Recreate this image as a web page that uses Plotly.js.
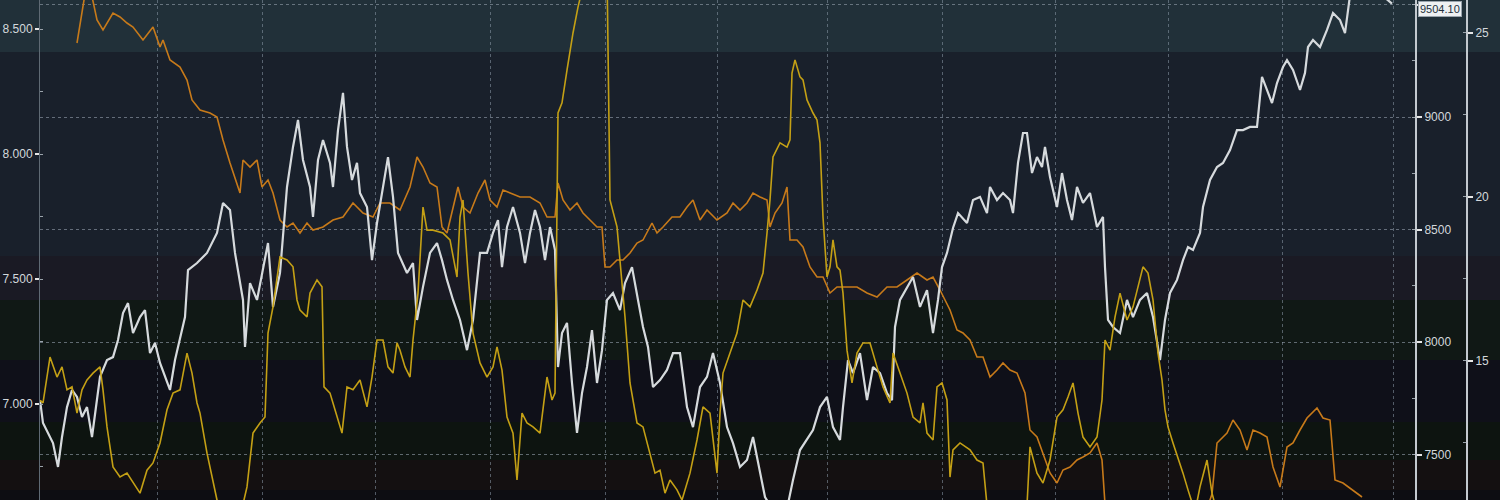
<!DOCTYPE html>
<html>
<head>
<meta charset="utf-8">
<script src="https://cdn.plot.ly/plotly-3.0.1.min.js"></script>
<style>html,body{margin:0;padding:0;background:#141922;}#chart{width:1500px;height:500px;}</style>
</head>
<body>
<div id="chart"></div>
<script>
// x positions are trading-day numbers
const monthGridDays = [23.4, 44.4, 67, 90, 113, 135.4, 157.4, 180.4, 203, 225.6, 248.4, 270.6];

// White series (right axis 1)
const whiteDays = [0,0.6,2.6,3.6,4.4,5.4,6.4,7.4,8.4,9.4,
10.4,11.4,12,13.4,14.6,15.6,16.6,17.6,18.6,20,
21,22,23,24,25,26,27,28,29,29.6,
31.4,33.4,35.4,36.6,38,39,40.6,41,42,43.4,
44.6,45.6,46.6,48,49.4,50.6,51.6,52.6,54,54.6,
55.6,56.6,58,58.6,59.6,60.6,61.4,62.4,63.4,64,
65.4,66.4,67.4,68.6,69.6,70.6,71.6,73.4,74.6,75.4,
76.6,78,79.4,80.4,81.4,82.6,84,85.4,86.6,88,
89.4,90.6,91.6,92.4,93.4,94.6,96,97,98,99,
100,101,102,103,103.6,104.4,105.4,106.4,107.4,108.4,
109.4,110.4,111.4,112.4,113.4,114.6,116,117,118.4,119.6,
120.6,121.6,122.6,124,125.4,126.6,128,129.4,130.6,132,
133.4,134.6,136,137.4,138.6,140,141.4,142.6,144,145,
146.4,148,149.6,150.6,152,153.4,154.6,156,157.4,158.6,
160,160.6,161.6,162.6,164,165.4,166.6,168,169.4,170.4,
171,172,173.4,174.6,176,177.4,178.6,179.6,180.4,181.4,
182.6,183.6,185.4,186.6,188,189.4,190,191.4,192.6,194,
194.6,195.6,196.6,197.4,198.4,199.4,200.4,201,202,203.4,
204.4,205.4,206.4,207.4,208.6,210,211.4,212.6,213,213.6,
214.6,216,217.4,218.6,220,221.4,222.6,224,225,226,
227.4,228.6,229.6,230.6,232,232.6,234,235.4,236.6,238,
239.4,240.6,242,243.4,244.4,245.4,246.4,247.4,248.6,249.4,
250.6,252,253,253.6,254.6,256,257.4,258.6,260,261,
262,263.6,265.6,267.6,269,270.4];
const whiteValues = [7742,7640,7551,7445,7578,7711,7787,7756,7667,7711,
7578,7756,7845,7920,7933,8009,8129,8173,8040,8111,
8142,7951,7996,7907,7845,7787,7920,8009,8111,8320,
8351,8396,8485,8618,8587,8396,8187,7978,8262,8187,
8333,8440,8156,8307,8689,8867,8987,8809,8689,8556,
8809,8898,8796,8689,8942,9107,8867,8720,8796,8662,
8600,8364,8529,8689,8822,8645,8396,8307,8351,8098,
8245,8396,8440,8364,8276,8187,8098,7964,8098,8396,
8396,8485,8542,8333,8511,8600,8485,8351,8485,8587,
8511,8364,8511,8409,7889,8040,8085,7818,7596,7773,
7889,8053,7818,7964,8187,8218,8142,8262,8333,8187,
8067,7978,7800,7831,7876,7951,7951,7711,7622,7800,
7845,7951,7818,7622,7551,7445,7476,7578,7418,7311,
7260,7230,7280,7387,7520,7565,7609,7711,7756,7622,
7565,7711,7920,7862,7951,7742,7889,7862,7773,7742,
8067,8187,8245,8289,8156,8231,8040,8187,8333,8396,
8507,8573,8529,8631,8645,8573,8689,8631,8662,8631,
8573,8796,8929,8929,8751,8822,8778,8867,8733,8600,
8751,8631,8542,8689,8618,8662,8511,8556,8333,8098,
8067,8040,8187,8111,8187,8218,8111,7920,8098,8218,
8276,8364,8422,8409,8485,8600,8720,8778,8796,8853,
8942,8942,8956,8956,9178,9120,9062,9151,9222,9253,
9209,9120,9196,9311,9342,9311,9387,9462,9431,9373,
9540,9590,9620,9580,9530,9504.10];
const whiteLast = 9504.10;

// Orange series (left axis)
const orangeDays = [7.4,8,9,10.4,11.4,12.6,14.6,16,17.4,18.6,
20.6,22.6,24,24.6,26,28,29.4,30.4,32,34,
35.4,36.6,38,40,40.6,42,43.4,44.4,45.6,46.6,
48,49.4,50.6,52,53.4,54.6,56.6,58.6,60.6,62.6,
64.6,66.6,68,70,72,74,75.4,76.6,78,79.4,
80.4,81.4,82.4,83.6,84.6,86,87.6,89,90,91.4,
92.6,94,96,98,100,101.4,103,103.6,104.6,106,
107.4,108.6,110,111.4,112.4,113,114,115.4,116.6,118,
119.4,120.6,122.4,123.4,124.6,126.4,128,129.4,130.6,132,
133.4,135.4,137.4,138.6,140,141.4,142.6,144,145.4,146,
147,148.4,149.4,150,151.4,152.6,154,155.4,156.6,158,
159.4,161.4,163.4,165.4,167.4,169.4,171.4,173.4,175.4,177.4,
178.6,180,182,183.4,184.6,186,187.4,188.6,190,191.4,
192.6,194,195.4,197,198,199.4,200.6,202,203.4,204.6,
206,207.4,208.6,210,211.4,212.4,213,216,222,228,
233.4,234.4,235.4,237.4,238.6,240,241.4,242.6,244,245.4,
246.6,248,249.4,250.6,252,253.4,255.4,256.6,258,259,
260.6,262.6,264.4];
const orangeValues = [8.444,8.516,8.64,8.63,8.536,8.496,8.564,8.548,8.524,8.508,
8.456,8.508,8.428,8.456,8.376,8.348,8.296,8.216,8.176,8.164,
8.148,8.056,7.964,7.844,7.976,7.948,7.976,7.868,7.896,7.844,
7.736,7.708,7.724,7.684,7.724,7.696,7.708,7.736,7.748,7.804,
7.764,7.748,7.804,7.804,7.776,7.868,7.988,7.948,7.884,7.868,
7.708,7.684,7.764,7.868,7.788,7.764,7.844,7.896,7.816,7.788,
7.856,7.844,7.828,7.828,7.804,7.748,7.748,7.884,7.816,7.776,
7.804,7.764,7.736,7.708,7.708,7.548,7.548,7.576,7.576,7.604,
7.644,7.656,7.724,7.684,7.708,7.748,7.748,7.788,7.816,7.736,
7.776,7.736,7.764,7.804,7.776,7.804,7.844,7.828,7.816,7.708,
7.764,7.804,7.868,7.656,7.656,7.628,7.548,7.508,7.508,7.444,
7.468,7.468,7.468,7.444,7.428,7.468,7.468,7.496,7.524,7.496,
7.508,7.456,7.376,7.296,7.284,7.256,7.188,7.188,7.108,7.136,
7.164,7.136,7.124,7.044,6.896,6.868,6.804,6.724,6.684,6.736,
6.748,6.776,6.788,6.804,6.844,6.776,6.6,6.52,6.48,6.5,
6.58,6.64,6.844,6.884,6.936,6.896,6.816,6.896,6.884,6.868,
6.748,6.668,6.828,6.844,6.896,6.944,6.984,6.944,6.936,6.696,
6.684,6.656,6.628];

// Gold series (right axis 2)
const goldDays = [0,0.6,2,3.4,4.4,5.4,6.4,7.4,8.4,9.4,
10.6,12,12.6,13.4,14.6,16,17.4,18.6,20,21.4,
22.6,24,25.4,26.6,28,29.4,30.4,31.4,32,33.4,
34.6,35.4,37,39,40.4,41.4,42.6,44,45,45.6,
46.6,48,49.4,50.6,51.4,52,53.4,54,55.4,56.4,
56.8,58,59,60.4,61.4,62.6,64,65.4,66.4,67.4,
68.6,69.6,70.6,71.4,72,73,74,74.6,75.6,76.6,
77.4,78.6,80.6,82,83.4,84,84.6,85.6,86.6,88,
89.4,90.6,91.4,92.4,93.4,94.6,95.4,96.4,97.4,98.6,
100,101.4,102.4,103,103.6,104.4,105.4,106.6,107.6,108.4,
110,112,113.4,114,115.4,116,117,118,119.4,120.6,
122,123,124,125,126,127.4,128.4,130,131.4,132.6,
134,135,135.4,136,136.6,138,139.4,140.6,142,143.4,
144.6,145.4,146,146.6,148,149.4,150,150.4,151,152,
152.6,153.4,154.6,155.4,156,156.6,157.4,158,158.6,159.4,
160,160.6,161.4,162.4,163.4,164.6,166,167.4,168.6,170,
170.6,172,173.4,174.6,176,176.6,177.4,178.6,179.4,180.4,
181.4,182,182.6,184,186,187.4,188.6,189.4,192,195,
197.4,198,199.4,200.6,202,203.4,204.6,205.6,206.6,207.6,
208.6,210,211.4,212.4,213,214,215,216,217.4,218.6,
219.6,220.6,221.6,222.6,223.6,224.4,225,225.6,226.6,227.6,
228.6,229.6,231,232,233.4,234.4,235.4];
const goldValues = [13.8,13.72,15.12,14.51,14.82,14.12,14.21,13.41,14.12,14.42,
14.63,14.82,14.12,12.99,11.77,11.46,11.58,11.28,10.97,11.67,
11.89,12.5,13.51,14.02,14.12,15.24,14.63,13.72,13.41,12.19,
11.28,10.76,10.4,10.2,10.5,11.16,12.8,13.11,13.29,15.85,
16.65,18.17,18.08,17.87,16.86,16.55,16.34,17.07,17.47,17.26,
14.21,14.02,13.51,12.8,14.21,14.12,14.42,13.6,14.51,15.64,
15.64,14.82,14.63,15.55,15.33,14.82,14.51,15.64,17.07,19.69,
18.99,18.99,18.9,18.69,17.56,19.39,19.91,17.68,15.85,14.94,
14.51,14.82,15.43,14.72,13.29,12.8,11.37,13.41,13.11,12.99,
12.8,14.51,13.81,14.02,22.56,22.87,23.87,25,25.79,26.3,
26.8,27,26.9,19.91,19.09,18.08,16.34,14.33,13.11,12.99,
12.19,11.58,11.67,10.97,11.37,11.07,10.76,11.58,12.59,13.6,
13.41,12.19,11.58,13.41,14.63,15.24,15.85,16.86,16.65,17.16,
17.68,18.9,19.91,21.22,21.65,21.52,21.74,23.78,24.18,23.66,
23.57,22.96,22.56,22.35,21.65,19.39,17.56,17.87,18.69,17.87,
17.77,17.07,15.33,14.33,15.24,15.55,15.55,14.82,14.21,13.72,
15.24,14.63,14.02,13.29,13.11,13.72,12.8,12.59,14.21,14.33,
13.81,11.46,12.29,12.5,12.29,11.98,11.89,10.6,10.3,10.3,
10.6,12.38,11.58,11.28,11.98,13.29,13.51,13.9,14.33,13.41,
12.68,12.38,12.68,13.81,15.64,15.33,16.34,17.07,16.25,16.65,
17.26,17.87,17.68,16.86,15.24,14.42,13.51,12.99,12.5,12.07,
11.58,11.07,10.4,11.16,11.98,10.97,10.4];

const FONT = 'Liberation Sans, Arial, sans-serif';
const XDOM = 1375 / 1427;

const traces = [
  {x: goldDays, y: goldValues, yaxis: 'y3', type: 'scatter', mode: 'lines',
   line: {color: '#c4a015', width: 1.6}, hoverinfo: 'skip'},
  {x: orangeDays, y: orangeValues, yaxis: 'y', type: 'scatter', mode: 'lines',
   line: {color: '#c77a1a', width: 1.6}, hoverinfo: 'skip'},
  {x: whiteDays, y: whiteValues, yaxis: 'y2', type: 'scatter', mode: 'lines',
   line: {color: '#d6dadd', width: 2.2}, hoverinfo: 'skip'}
];

// background bands (paper coords)
const bands = [
  [0.896, 1.0, '#213039'],
  [0.488, 0.896, '#19202b'],
  [0.40, 0.488, '#1a1a24'],
  [0.28, 0.40, '#101815'],
  [0.156, 0.28, '#0f1019'],
  [0.08, 0.156, '#0d1410'],
  [0.02, 0.08, '#141011'],
  [0.0, 0.02, '#0d0d12']
];
const shapes = bands.map(b => ({
  type: 'rect', xref: 'paper', yref: 'paper', x0: -0.03, x1: 1.03, y0: b[0], y1: b[1],
  fillcolor: b[2], line: {width: 0}, layer: 'below'
}));

const tickFont = {family: FONT, size: 12, color: '#d3d8dc'};

const layout = {
  width: 1500, height: 500,
  margin: {l: 40, r: 33, t: 0, b: 0, pad: 0},
  paper_bgcolor: '#141922', plot_bgcolor: 'rgba(0,0,0,0)',
  showlegend: false, hovermode: false,
  shapes: shapes,
  xaxis: {
    domain: [0, XDOM], range: [0, 275], showticklabels: false,
    tickmode: 'array', tickvals: monthGridDays, ticks: '',
    showgrid: true, gridcolor: 'rgba(140,155,170,0.55)', griddash: 'dot', gridwidth: 1,
    zeroline: false, showline: false
  },
  yaxis: {
    range: [6.616, 8.616], side: 'left', tick0: 7, dtick: 0.5, tickformat: '.3f',
    showgrid: false, zeroline: false, showline: true, linecolor: '#5f6a74', linewidth: 1,
    ticks: 'outside', ticklen: 4, tickwidth: 2, tickcolor: '#e6e6e6', tickfont: tickFont,
    minor: {dtick: 0.25, tick0: 7, ticks: 'inside', ticklen: 3, tickcolor: '#9aa3ab', tickwidth: 1, showgrid: false}
  },
  yaxis2: {
    overlaying: 'y', side: 'right', anchor: 'x', range: [7298, 9520],
    tick0: 7500, dtick: 500, tickformat: 'd',
    showgrid: true, gridcolor: 'rgba(150,162,175,0.6)', griddash: 'dot', gridwidth: 1,
    zeroline: false, showline: true, linecolor: '#c3c9cf', linewidth: 2,
    ticks: 'outside', ticklen: 5, tickwidth: 2, tickcolor: '#e6e6e6', tickfont: tickFont,
    minor: {dtick: 250, tick0: 7500, ticks: 'inside', ticklen: 3, tickcolor: '#9aa3ab', tickwidth: 1, showgrid: false}
  },
  yaxis3: {
    overlaying: 'y', side: 'right', anchor: 'free', position: 1, range: [10.761, 26.006],
    tick0: 15, dtick: 5, showgrid: false, zeroline: false,
    showline: true, linecolor: '#c3c9cf', linewidth: 2,
    ticks: 'outside', ticklen: 5, tickwidth: 2, tickcolor: '#e6e6e6', tickfont: tickFont,
    minor: {dtick: 2.5, tick0: 15, ticks: 'inside', ticklen: 3, tickcolor: '#9aa3ab', tickwidth: 1, showgrid: false}
  },
  annotations: [{
    xref: 'paper', x: XDOM, yref: 'paper', y: 1, xanchor: 'left', yanchor: 'top',
    xshift: 3, yshift: -1, text: whiteLast.toFixed(2), showarrow: false,
    bgcolor: '#eef0f2', bordercolor: '#9aa4ad', borderwidth: 1, borderpad: 1,
    font: {family: FONT, size: 11, color: '#24303c'}
  }]
};

Plotly.newPlot('chart', traces, layout, {staticPlot: true, displayModeBar: false});
</script>
</body>
</html>
